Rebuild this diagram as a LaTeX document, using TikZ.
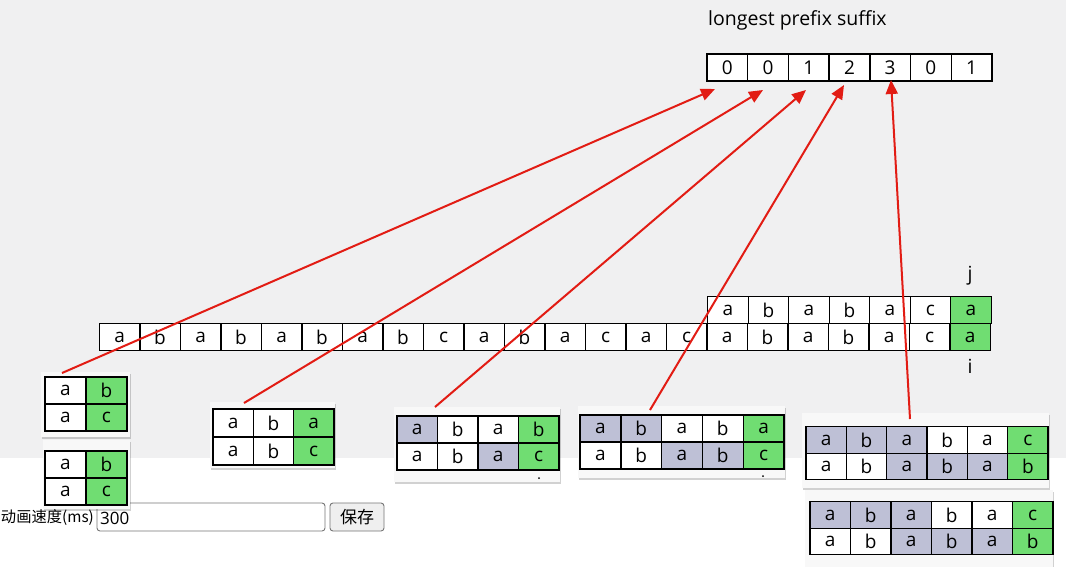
\documentclass[tikz,border=0pt]{standalone}
\usepackage{fontspec}
\setmainfont{Open Sans}
\newfontfamily\cjk{Noto Sans CJK SC}
\usetikzlibrary{arrows.meta,shadows}
\definecolor{bggray}{RGB}{240,240,241}
\definecolor{cg}{RGB}{112,221,114}
\definecolor{cl}{RGB}{190,192,214}
\definecolor{cw}{RGB}{255,255,255}
\definecolor{redline}{RGB}{226,28,20}
\definecolor{cardfill}{RGB}{248,248,248}
\definecolor{ctrlborder}{RGB}{118,118,118}
\tikzset{
  cell/.style={draw=black, line width=1.4pt, inner sep=0pt, font=\fontsize{19}{22}\selectfont, text=black},
  card/.style={fill=cardfill, draw=none, drop shadow={shadow xshift=1pt, shadow yshift=-2pt, opacity=0.18, fill=black}},
  redarrow/.style={draw=redline, line width=2pt, -{Triangle[length=14pt,width=12pt]}},
  lbl/.style={font=\fontsize{19.5}{23}\selectfont, inner sep=0pt}
}
% name, x0, ycenter, cell width, cell height, list text/colour
\newcommand{\mkrow}[6]{%
  \foreach \t/\c [count=\k from 0] in {#6} {
    \node[cell, fill=\c, minimum width=#4pt, minimum height=#5pt] (#1-\k) at ({#2+(\k+0.5)*#4}, #3) {\t};
  }}
\begin{document}
\begin{tikzpicture}[x=1pt,y=-1pt]
\useasboundingbox (0,0) rectangle (1066,566);
\fill[white] (0,0) rectangle (1066,566);
\fill[bggray] (0,0) rectangle (1066,458);

% title and LPS array
\node[lbl, anchor=west] (title) at (708,20) {longest prefix suffix};
\mkrow{lps}{707}{67.5}{40.7}{27}{0/cw,0/cw,1/cw,2/cw,3/cw,0/cw,1/cw}

% text and pattern
\mkrow{txt}{99.3}{337}{40.5}{27}{a/cw,b/cw,a/cw,b/cw,a/cw,b/cw,a/cw,b/cw,c/cw,a/cw,b/cw,a/cw,c/cw,a/cw,c/cw,a/cw,b/cw,a/cw,b/cw,a/cw,c/cw,a/cg}
\mkrow{pat}{707.7}{310}{40.5}{27}{a/cw,b/cw,a/cw,b/cw,a/cw,c/cw,a/cg}
\node[lbl] (jlab) at (970,276) {j};
\node[lbl] (ilab) at (970,366) {i};

% bottom controls
\node[anchor=west, font=\cjk\fontsize{15.3}{18}\selectfont, inner sep=0pt] (speedlbl) at (0.8,518) {动画速度(ms)};
\draw[ctrlborder, fill=white, rounded corners=3pt, line width=0.9pt] (97,503) rectangle (325,531);
\node[anchor=west, font=\fontsize{17}{20}\selectfont, inner sep=0pt] (speedval) at (100,518) {300};
\draw[ctrlborder, fill={rgb,255:red,239;green,239;blue,239}, rounded corners=3pt, line width=0.9pt] (330,503) rectangle (384,531);
\node[font=\cjk\fontsize{17}{20}\selectfont, inner sep=0pt] (savebtn) at (357,517) {保存};

% card 1
\fill[card] (41,372) rectangle (130,437);
\mkrow{c1a}{45}{390.5}{41}{27}{a/cw,b/cg}
\mkrow{c1b}{45}{417.5}{41}{27}{a/cw,c/cg}
% card 2
\fill[card] (43,440) rectangle (130,509);
\mkrow{c2a}{45}{464.5}{41}{27}{a/cw,b/cg}
\mkrow{c2b}{45}{491.5}{41}{27}{a/cw,c/cg}
% card 3
\fill[card] (210,402) rectangle (335,468);
\mkrow{c3a}{213}{423}{40.3}{28}{a/cw,b/cw,a/cg}
\mkrow{c3b}{213}{451}{40.3}{28}{a/cw,b/cw,c/cg}
% card 4
\fill[card] (394,407) rectangle (560,482);
\mkrow{c4a}{397}{429.5}{40.5}{27}{a/cl,b/cw,a/cw,b/cg}
\mkrow{c4b}{397}{456.5}{40.5}{27}{a/cw,b/cw,a/cl,c/cg}
\fill[black] (539,478) circle (1pt);
% card 5
\fill[card] (578,406) rectangle (785,478);
\mkrow{c5a}{580}{428.5}{40.8}{27}{a/cl,b/cl,a/cw,b/cw,a/cg}
\mkrow{c5b}{580}{455.5}{40.8}{27}{a/cw,b/cw,a/cl,b/cl,c/cg}
\fill[black] (763,476) circle (1pt);
% card 6
\fill[card] (802,413) rectangle (1049,488);
\mkrow{c6a}{806}{440}{40.33}{26.5}{a/cl,b/cl,a/cl,b/cw,a/cw,c/cg}
\mkrow{c6b}{806}{466.5}{40.33}{26.5}{a/cw,b/cw,a/cl,b/cl,a/cl,b/cg}
% card 7
\fill[card] (805,490) rectangle (1053,570);
\mkrow{c7a}{810}{515}{40.5}{26.5}{a/cl,b/cl,a/cl,b/cw,a/cw,c/cg}
\mkrow{c7b}{810}{541.5}{40.5}{26.5}{a/cw,b/cw,a/cl,b/cl,a/cl,b/cg}

% arrows
\coordinate (s1) at (62,373);
\coordinate (s2) at (244,403);
\coordinate (s3) at (435,407);
\coordinate (s4) at (650,410);
\coordinate (s5) at (910,419);
\coordinate (e1) at (715,89);
\coordinate (e2) at (763,90);
\coordinate (e3) at (806,90);
\coordinate (e4) at (844,85);
\coordinate (e5) at (891,80);
\draw[redarrow] (s1) -- (e1);
\draw[redarrow] (s2) -- (e2);
\draw[redarrow] (s3) -- (e3);
\draw[redarrow] (s4) -- (e4);
\draw[redarrow] (s5) -- (e5);
\end{tikzpicture}
\end{document}
